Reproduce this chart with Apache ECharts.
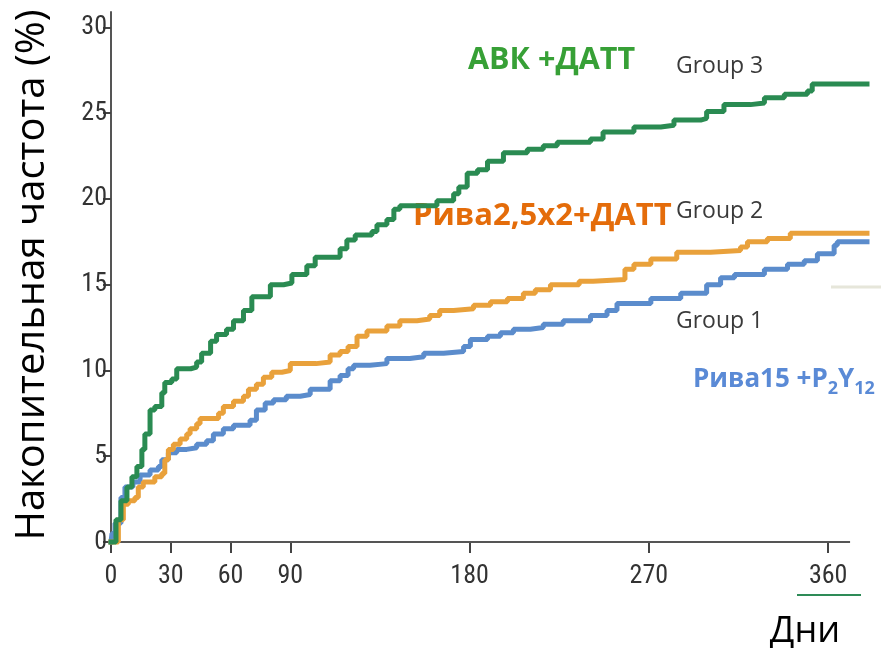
<!DOCTYPE html>
<html>
<head>
<meta charset="utf-8">
<script src="https://cdn.jsdelivr.net/npm/echarts@6/dist/echarts.min.js"></script>
<style>
  html, body { margin: 0; padding: 0; background: #ffffff; }
  #chart { width: 881px; height: 648px; }
</style>
</head>
<body>
<div id="chart"></div>
<script>
// Cumulative incidence (%) by day, three treatment groups (step curves)
const group1Days = [0, 0.5, 2, 5, 7, 11, 14.6, 19.6, 23.8, 25.5, 28.8, 33, 38, 43, 48, 51.4, 56.4, 61.5, 69.8, 73, 77.4, 81.6, 88, 95, 100, 110, 115, 119, 121.8, 130, 138.5, 150, 157, 167, 177, 180.4, 189, 195.5, 202, 210.5, 217, 227, 240.7, 249, 254, 271, 286, 299, 306, 313, 328, 339.6, 348, 354.6, 363, 364.6, 379.5];
const group1Pct  = [0, 0.5, 1.1, 2.6, 3.2, 3.5, 3.9, 4.2, 4.4, 4.8, 5.2, 5.4, 5.5, 5.7, 5.9, 6.3, 6.6, 6.8, 7.1, 7.7, 8.1, 8.3, 8.5, 8.6, 8.9, 9.4, 9.7, 10.1, 10.3, 10.4, 10.7, 10.8, 11.0, 11.1, 11.4, 11.8, 12.0, 12.2, 12.4, 12.5, 12.7, 12.9, 13.2, 13.5, 13.9, 14.2, 14.5, 15.0, 15.4, 15.6, 15.9, 16.2, 16.4, 16.8, 17.3, 17.5, 17.5];

const group2Days = [0, 3.7, 6.2, 8.7, 12, 13.7, 16.2, 22, 25.5, 27, 28.8, 31.3, 34.7, 38, 39.7, 43, 44.7, 54, 56.4, 61.5, 66.5, 69, 73, 76.5, 80.7, 85.8, 90, 103, 110, 115, 119, 123.5, 128.5, 138.5, 145, 153.6, 160, 165, 172, 182, 190.5, 199, 207, 213, 220.6, 235, 242, 258, 262.5, 271, 284, 301, 316, 319.5, 329.5, 341, 379.5];
const group2Pct  = [0, 1.3, 2.2, 2.4, 2.6, 3.2, 3.5, 3.8, 4.0, 4.8, 5.4, 5.7, 6.0, 6.3, 6.6, 6.9, 7.2, 7.5, 7.9, 8.2, 8.5, 8.9, 9.2, 9.6, 9.9, 10.0, 10.4, 10.5, 10.9, 11.1, 11.4, 12.0, 12.3, 12.6, 12.9, 13.0, 13.2, 13.5, 13.6, 13.8, 14.0, 14.2, 14.5, 14.7, 15.0, 15.2, 15.3, 15.9, 16.2, 16.5, 16.9, 17.0, 17.2, 17.5, 17.7, 18.0, 18.0];

const group3Days = [0, 2.5, 5, 8, 10.5, 13, 15.5, 17, 19.6, 22, 25.5, 27, 30.5, 33, 40, 43, 45.5, 50, 53, 58, 61.5, 66.5, 70.7, 80, 86.6, 90.8, 98.3, 102.5, 115, 118.4, 122.6, 131, 133.5, 138.5, 142, 145, 163.6, 172, 174.6, 178.8, 184, 189, 197, 209, 217, 224, 240.7, 247, 262.5, 276, 282.6, 296, 299, 307.7, 321, 328, 338, 349.6, 352, 379.5];
const group3Pct  = [0, 1.3, 2.4, 3.2, 3.8, 4.4, 5.4, 6.3, 7.7, 7.9, 8.7, 9.3, 9.5, 10.1, 10.2, 10.5, 11.0, 11.7, 12.1, 12.4, 12.9, 13.5, 14.3, 15.0, 15.1, 15.6, 16.1, 16.6, 17.1, 17.6, 17.9, 18.1, 18.5, 18.8, 19.4, 19.6, 19.9, 20.3, 20.7, 21.5, 21.7, 22.2, 22.7, 22.9, 23.1, 23.3, 23.5, 23.9, 24.2, 24.3, 24.6, 24.7, 25.1, 25.5, 25.6, 25.9, 26.1, 26.3, 26.7, 26.7];

const xTickValues = [0, 30, 60, 90, 180, 270, 360];
const yTickValues = [0, 5, 10, 15, 20, 25, 30];

const yAxisTitle = 'Накопительная частота (%)';
const xAxisTitle = 'Дни';
const groupNames = ['Group 1', 'Group 2', 'Group 3'];
const regimenLabels = ['АВК +ДАТТ', 'Рива2,5х2+ДАТТ'];

const pairs = (xs, ys) => xs.map((x, i) => [x, ys[i]]);

const tickFont = '"Liberation Sans Narrow", "Roboto Condensed", Roboto, sans-serif';
const textFont = '"Open Sans", "Noto Sans", sans-serif';

// The curves run a little past the drawn end of the day axis line,
// so the axis line itself is drawn as a series that stops at dayAxisEnd.
const dayMax = 379.5, dayAxisEnd = 371, pctMax = 30.9;

function curve(name, days, pct, color) {
  return {
    name: name,
    type: 'line',
    step: 'end',
    data: pairs(days, pct),
    showSymbol: false,
    clip: false,
    z: 3,
    lineStyle: { color: color, width: 5, cap: 'square' },
    emphasis: { disabled: true },
    silent: true
  };
}

const chart = echarts.init(document.getElementById('chart'), null, { renderer: 'canvas' });

chart.setOption({
  animation: false,
  backgroundColor: '#ffffff',
  grid: { left: 111, right: 14, top: 12, bottom: 106, containLabel: false, outerBoundsMode: 'none' },
  xAxis: {
    type: 'value', min: 0, max: dayMax,
    axisLine: { show: false },
    axisTick: { show: true, customValues: xTickValues, length: 11, lineStyle: { color: '#444444', width: 2 } },
    axisLabel: { customValues: xTickValues, fontFamily: tickFont, fontSize: 26, color: '#333333', margin: 21 },
    splitLine: { show: false }
  },
  yAxis: {
    type: 'value', min: 0, max: pctMax,
    axisLine: { show: true, lineStyle: { color: '#555555', width: 2 } },
    axisTick: { show: true, customValues: yTickValues, length: 8, lineStyle: { color: '#444444', width: 2 } },
    axisLabel: { customValues: yTickValues, fontFamily: tickFont, fontSize: 26, color: '#333333', margin: 4 },
    splitLine: { show: false }
  },
  series: [
    {
      name: 'day axis',
      type: 'line',
      data: [[0, 0], [dayAxisEnd, 0]],
      showSymbol: false,
      clip: false,
      z: 1,
      lineStyle: { color: '#555555', width: 2 },
      emphasis: { disabled: true },
      silent: true
    },
    curve(groupNames[0], group1Days, group1Pct, '#5b8ccc'),
    curve(groupNames[1], group2Days, group2Pct, '#e9a13b'),
    curve(groupNames[2], group3Days, group3Pct, '#2a8b52')
  ],
  graphic: [
    {
      type: 'text', x: 33, y: 275, rotation: Math.PI / 2,
      style: { text: yAxisTitle, font: '40px ' + textFont, fill: '#000000', align: 'center', verticalAlign: 'middle' }
    },
    {
      type: 'text', x: 805, y: 632,
      style: { text: xAxisTitle, font: '36px ' + textFont, fill: '#000000', align: 'center', verticalAlign: 'middle' }
    },
    {
      type: 'text', x: 468, y: 45,
      style: { text: regimenLabels[0], font: 'bold 30.5px ' + textFont, fill: '#37a036', align: 'left', verticalAlign: 'top' }
    },
    {
      type: 'text', x: 413, y: 201,
      style: { text: regimenLabels[1], font: 'bold 31px ' + textFont, fill: '#e46c0a', align: 'left', verticalAlign: 'top' }
    },
    {
      type: 'text', x: 693, y: 367,
      style: {
        text: '{m|Рива15 +P}{s|2}{m|Y}{s|12}',
        align: 'left', verticalAlign: 'top',
        rich: {
          m: { fontFamily: textFont, fontWeight: 'bold', fontSize: 26, fill: '#5a8ad6', color: '#5a8ad6', verticalAlign: 'top' },
          s: { fontFamily: textFont, fontWeight: 'bold', fontSize: 18, fill: '#5a8ad6', color: '#5a8ad6', verticalAlign: 'top', padding: [13, 0, 0, 0] }
        }
      }
    },
    {
      type: 'text', x: 676, y: 55,
      style: { text: groupNames[2], font: '23px ' + textFont, fill: '#3a3a3a', align: 'left', verticalAlign: 'top' }
    },
    {
      type: 'text', x: 676, y: 200,
      style: { text: groupNames[1], font: '23px ' + textFont, fill: '#3a3a3a', align: 'left', verticalAlign: 'top' }
    },
    {
      type: 'text', x: 676, y: 310,
      style: { text: groupNames[0], font: '23px ' + textFont, fill: '#3a3a3a', align: 'left', verticalAlign: 'top' }
    },
    {
      type: 'line', shape: { x1: 797, y1: 595, x2: 861, y2: 595 },
      style: { stroke: '#2e8b57', lineWidth: 2 }
    },
    {
      type: 'line', shape: { x1: 831, y1: 287, x2: 881, y2: 287 },
      style: { stroke: '#e6e6da', lineWidth: 3 }
    }
  ]
});
</script>
</body>
</html>
